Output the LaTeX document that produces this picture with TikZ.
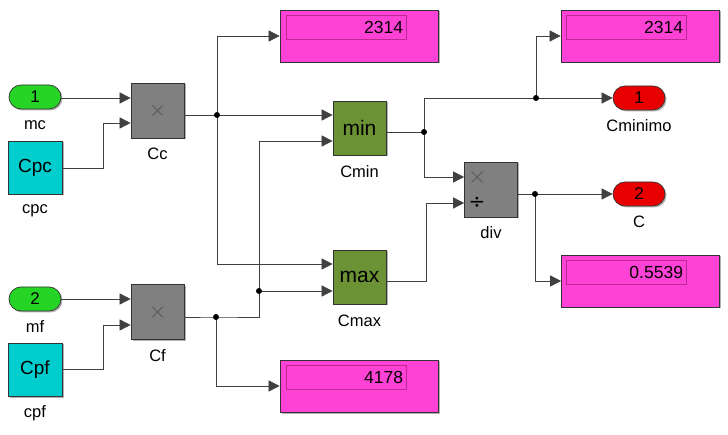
\documentclass[tikz,border=0pt]{standalone}
\usepackage{fontspec}
\setmainfont{Liberation Sans}
\newfontfamily\symfont{DejaVu Sans}
\usetikzlibrary{arrows.meta,shadows}
\definecolor{inGreen}{RGB}{38,212,38}
\definecolor{cpCyan}{RGB}{0,206,206}
\definecolor{blkGray}{RGB}{128,128,128}
\definecolor{olive}{RGB}{107,146,52}
\definecolor{dispMag}{RGB}{255,66,214}
\definecolor{dispEdge}{RGB}{190,40,150}
\definecolor{outRed}{RGB}{232,0,0}
\tikzset{
  x=1pt, y=-1pt,
  shd/.style={drop shadow={shadow xshift=1.5pt, shadow yshift=-1.5pt, opacity=0.3, fill=black}},
  blk/.style={draw=black!80, line width=0.7pt, minimum width=53pt, minimum height=55pt, inner sep=0pt, shd},
  port/.style={draw=black!80, line width=0.7pt, rounded corners=12pt, minimum width=52pt, minimum height=24pt, inner sep=0pt, shd, font=\fontsize{17}{19}\selectfont},
  disp/.style={draw=black!80, fill=dispMag, line width=0.7pt, minimum width=158pt, minimum height=52pt, inner sep=0pt, shd},
  dispin/.style={draw=dispEdge, line width=0.5pt, minimum height=24pt, text width=114pt, inner xsep=3pt, inner ysep=0pt, align=right, font=\fontsize{17.5}{19}\selectfont},
  lbl/.style={font=\fontsize{16.5}{19}\selectfont, inner sep=0pt},
  wire/.style={draw=black!75, line width=0.6pt},
  arr/.style={wire, -{Triangle[length=11pt,width=11pt]}},
  jdot/.style={fill=black},
  xmark/.style={draw=black!65, line width=0.8pt},
}
\begin{document}
\begin{tikzpicture}
\useasboundingbox (0,0) rectangle (728,435);
% sources
\node[port, fill=inGreen] (in1) at (35,97) {1};
\node[lbl] (in1l) at (35,125) {mc};
\node[blk, fill=cpCyan, minimum width=54pt, minimum height=53pt, font=\fontsize{19}{21}\selectfont] (cpc) at (35,167.5) {Cpc};
\node[lbl] (cpcl) at (35,211) {cpc};
\node[port, fill=inGreen] (in2) at (35,299) {2};
\node[lbl] (in2l) at (35,327) {mf};
\node[blk, fill=cpCyan, minimum width=54pt, minimum height=53pt, font=\fontsize{19}{21}\selectfont] (cpf) at (35,369.5) {Cpf};
\node[lbl] (cpfl) at (35,413) {cpf};
% products
\node[blk, fill=blkGray] (cc) at (157.5,110.5) {};
\draw[xmark] ([xshift=-5pt,yshift=-5pt]cc.center) -- ([xshift=5pt,yshift=5pt]cc.center)
             ([xshift=-5pt,yshift=5pt]cc.center) -- ([xshift=5pt,yshift=-5pt]cc.center);
\node[lbl] (ccl) at (157.5,154) {Cc};
\node[blk, fill=blkGray] (cf) at (157.5,312) {};
\draw[xmark] ([xshift=-5pt,yshift=-5pt]cf.center) -- ([xshift=5pt,yshift=5pt]cf.center)
             ([xshift=-5pt,yshift=5pt]cf.center) -- ([xshift=5pt,yshift=-5pt]cf.center);
\node[lbl] (cfl) at (157.5,356) {Cf};
% min max
\node[blk, fill=olive, minimum height=54pt, font=\fontsize{21}{23}\selectfont] (cmin) at (359.5,128) {min};
\node[lbl] (cminl) at (359.5,172) {Cmin};
\node[blk, fill=olive, minimum height=54pt, font=\fontsize{21}{23}\selectfont] (cmax) at (359.5,277) {max};
\node[lbl] (cmaxl) at (359.5,321) {Cmax};
% div
\node[blk, fill=blkGray] (div) at (491,189.5) {};
\coordinate (divxc) at (477,177);
\draw[xmark] ([xshift=-5.5pt,yshift=-5.5pt]divxc) -- ([xshift=5.5pt,yshift=5.5pt]divxc)
             ([xshift=-5.5pt,yshift=5.5pt]divxc) -- ([xshift=5.5pt,yshift=-5.5pt]divxc);
\node[text=black, font=\symfont\fontsize{20}{22}\selectfont, inner sep=0pt] (divd) at (477,203) {÷};
\node[lbl] (divl) at (491,233) {div};
% outports
\node[port, fill=outRed] (o1) at (639,98) {1};
\node[lbl] (o1l) at (639,126) {Cminimo};
\node[port, fill=outRed] (o2) at (639,194) {2};
\node[lbl] (o2l) at (639,222) {C};
% displays
\node[disp] (d1) at (359,36) {};
\node[dispin] (d1v) at (346,27) {2314};
\node[disp] (d2) at (640,36) {};
\node[dispin] (d2v) at (626,27.5) {2314};
\node[disp] (d3) at (640.5,281) {};
\node[dispin] (d3v) at (626,272.5) {0.5539};
\node[disp] (d4) at (359,386) {};
\node[dispin] (d4v) at (346,377.5) {4178};
% junctions
\coordinate (j1) at (217,115);
\coordinate (j2) at (216,317);
\coordinate (j3) at (259,291);
\coordinate (j4) at (424,132);
\coordinate (j5) at (536,98);
\coordinate (j6) at (535,194);
% wires
\draw[arr] (in1.east |- 0,98) -- (cc.west |- 0,98);
\draw[arr] (cpc.east |- 0,168) -- (103,168) -- (103,123) -- (cc.west |- 0,123);
\draw[wire] (cc.east |- j1) -- (j1);
\draw[arr] (j1) -- (cmin.west |- j1);
\draw[arr] (j1) -- (j1 |- d1) -- (d1.west);
\draw[arr] (j1) -- (217,264) -- (cmax.west |- 0,264);
\draw[arr] (in2.east) -- (cf.west |- in2);
\draw[arr] (cpf.east |- 0,369) -- (103,369) -- (103,325) -- (cf.west |- 0,325);
\draw[wire] (cf.east |- j2) -- (j2) -- (j3 |- j2) -- (j3);
\draw[arr] (j3) -- (cmax.west |- j3);
\draw[arr] (j3) -- (259,141) -- (cmin.west |- 0,141);
\draw[arr] (j2) -- (j2 |- d4) -- (d4.west);
\draw[wire] (cmin.east |- j4) -- (j4) -- (j4 |- j5) -- (j5);
\draw[arr] (j5) -- (o1.west);
\draw[arr] (j5) -- (j5 |- d2) -- (d2.west);
\draw[arr] (j4) -- (424,177) -- (div.west |- 0,177);
\draw[arr] (cmax.east |- 0,281) -- (426,281) -- (426,203) -- (div.west |- 0,203);
\draw[wire] (div.east |- j6) -- (j6);
\draw[arr] (j6) -- (o2.west);
\draw[arr] (j6) -- (j6 |- d3) -- (d3.west);
\foreach \j in {j1,j2,j3,j4,j5,j6} \fill[jdot] (\j) circle (3pt);
\end{tikzpicture}
\end{document}
